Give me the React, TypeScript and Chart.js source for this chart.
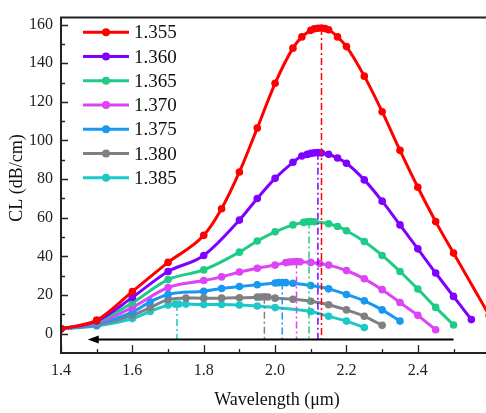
import React, { useEffect, useRef } from 'react';
import { Chart, registerables } from 'chart.js';

Chart.register(...registerables);

// ---- data ----
const seriesNames = ['1.355', '1.360', '1.365', '1.370', '1.375', '1.380', '1.385'];
const seriesColors = ['#FF0000', '#8000FF', '#1FCB86', '#DD44F5', '#1A98F0', '#808080', '#1CC8C8'];

const wl1355 = [1.4, 1.5, 1.6, 1.7, 1.8, 1.85, 1.9, 1.95, 2.0, 2.05, 2.075, 2.1, 2.11, 2.12, 2.13, 2.14, 2.15, 2.175, 2.2, 2.25, 2.3, 2.35, 2.4, 2.45, 2.5, 2.6];
const cl1355 = [2.5, 7, 21.8, 36.9, 50.9, 64.7, 83.7, 106.4, 129.6, 147.8, 153.6, 157, 157.8, 158.1, 158.2, 157.9, 157.3, 153.6, 148.6, 133.3, 114.9, 94.9, 75.8, 58, 41.7, 9.5];

const wl1360 = [1.4, 1.5, 1.6, 1.7, 1.8, 1.9, 1.95, 2.0, 2.05, 2.075, 2.09, 2.1, 2.11, 2.12, 2.13, 2.15, 2.175, 2.2, 2.25, 2.3, 2.35, 2.4, 2.45, 2.5, 2.55];
const cl1360 = [2.5, 6.5, 18.8, 32.2, 40.5, 58.8, 70, 80.4, 88.7, 92, 92.8, 93.3, 93.6, 93.7, 93.5, 92.9, 90.9, 88.2, 79.6, 68.6, 56.3, 43.9, 31.4, 19.3, 7.3];

const wl1365 = [1.4, 1.5, 1.6, 1.7, 1.8, 1.9, 1.95, 2.0, 2.05, 2.08, 2.09, 2.1, 2.11, 2.15, 2.175, 2.2, 2.25, 2.3, 2.35, 2.4, 2.45, 2.5];
const cl1365 = [2.5, 6, 16, 28, 33, 42.2, 48, 52.7, 56.3, 57.6, 57.9, 58, 57.9, 56.9, 55.5, 53.3, 47.7, 40.5, 32.2, 23.1, 13.6, 4.5];

const wl1370 = [1.4, 1.5, 1.6, 1.7, 1.8, 1.85, 1.9, 1.95, 2.0, 2.03, 2.04, 2.05, 2.06, 2.07, 2.1, 2.125, 2.15, 2.2, 2.25, 2.3, 2.35, 2.4, 2.45];
const cl1370 = [2.5, 5.5, 13.6, 23.9, 27.5, 29.4, 31.9, 33.9, 35.5, 36.8, 37.1, 37.2, 37.3, 37.2, 36.9, 36.3, 35.5, 32.7, 28.4, 22.8, 16.1, 9.5, 2];

const wl1375 = [1.4, 1.5, 1.6, 1.65, 1.7, 1.8, 1.85, 1.9, 1.95, 2.0, 2.01, 2.02, 2.03, 2.05, 2.1, 2.15, 2.2, 2.25, 2.3, 2.35];
const cl1375 = [2.5, 5, 11.1, 16.5, 20.3, 22, 23.4, 24.4, 25.3, 26.2, 26.4, 26.5, 26.4, 26.1, 24.9, 23.2, 20.3, 17, 12.3, 6.5];

const wl1380 = [1.4, 1.5, 1.6, 1.65, 1.7, 1.75, 1.8, 1.85, 1.9, 1.95, 1.96, 1.97, 1.98, 2.0, 2.05, 2.1, 2.15, 2.2, 2.25, 2.3];
const cl1380 = [2.5, 4.5, 9.5, 13.5, 17.6, 18.5, 18.4, 18.4, 18.6, 18.9, 19, 19.1, 19, 18.4, 17.8, 16.8, 15, 12.3, 9, 4.3];

const wl1385 = [1.4, 1.5, 1.6, 1.65, 1.7, 1.72, 1.73, 1.75, 1.8, 1.85, 1.9, 1.95, 2.0, 2.1, 2.15, 2.2, 2.25];
const cl1385 = [2.5, 4, 7.8, 11.5, 14.8, 15.3, 15.4, 15.3, 15.1, 15.1, 14.8, 14.3, 13.5, 11.5, 9, 6.5, 3.2];

const wavelengths = [wl1355, wl1360, wl1365, wl1370, wl1375, wl1380, wl1385];
const losses = [cl1355, cl1360, cl1365, cl1370, cl1375, cl1380, cl1385];

const peakWavelengths = [2.13, 2.12, 2.095, 2.06, 2.02, 1.97, 1.725];
const peakLosses = [158.2, 93.7, 58, 37.3, 26.5, 19.1, 15.4];

const xTickValues = [1.4, 1.6, 1.8, 2.0, 2.2, 2.4];
const xMinorValues = [1.5, 1.7, 1.9, 2.1, 2.3, 2.5];
const yTickValues = [0, 20, 40, 60, 80, 100, 120, 140, 160];
const yMinorValues = [10, 30, 50, 70, 90, 110, 130, 150];

const arrowStart = 2.5;
const arrowEnd = 1.475;
const arrowLevel = -3;

const FONT = '"Liberation Serif", "Times New Roman", serif';

const decorPlugin = {
  id: 'decor',
  afterDatasetsDraw(chart: any) {
    const { ctx, scales } = chart;
    const x = scales.x;
    const y = scales.y;
    ctx.save();
    ctx.lineWidth = 1.5;
    ctx.setLineDash([7, 3, 2, 3]);
    peakWavelengths.forEach((p, i) => {
      const px = x.getPixelForValue(p);
      ctx.strokeStyle = seriesColors[i];
      ctx.beginPath();
      ctx.moveTo(px, y.getPixelForValue(peakLosses[i]));
      ctx.lineTo(px, y.getPixelForValue(arrowLevel));
      ctx.stroke();
    });
    ctx.restore();

    // arrow
    ctx.save();
    const ay = y.getPixelForValue(arrowLevel);
    const ax0 = x.getPixelForValue(arrowStart);
    const ax1 = x.getPixelForValue(arrowEnd);
    ctx.strokeStyle = '#000';
    ctx.fillStyle = '#000';
    ctx.lineWidth = 2;
    ctx.beginPath();
    ctx.moveTo(ax0, ay);
    ctx.lineTo(ax1 + 8, ay);
    ctx.stroke();
    ctx.beginPath();
    ctx.moveTo(ax1, ay);
    ctx.lineTo(ax1 + 11, ay - 4);
    ctx.lineTo(ax1 + 11, ay + 4);
    ctx.closePath();
    ctx.fill();
    ctx.restore();
  },
  afterDraw(chart: any) {
    const { ctx, chartArea, scales } = chart;
    const x = scales.x;
    const y = scales.y;
    const { left, right, top, bottom } = chartArea;
    ctx.save();
    ctx.strokeStyle = '#222';
    ctx.lineWidth = 2;
    ctx.beginPath();
    ctx.moveTo(left, top);
    ctx.lineTo(right, top);
    ctx.moveTo(left, top - 1);
    ctx.lineTo(left, bottom + 1);
    ctx.moveTo(left - 1, bottom);
    ctx.lineTo(right, bottom);
    ctx.stroke();
    ctx.lineWidth = 1.3;
    ctx.beginPath();
    yTickValues.forEach((v) => {
      const py = Math.round(y.getPixelForValue(v)) + 0.5;
      ctx.moveTo(left, py);
      ctx.lineTo(left + 7, py);
    });
    yMinorValues.forEach((v) => {
      const py = Math.round(y.getPixelForValue(v)) + 0.5;
      ctx.moveTo(left, py);
      ctx.lineTo(left + 4, py);
    });
    xTickValues.forEach((v) => {
      const px = Math.round(x.getPixelForValue(v)) + 0.5;
      ctx.moveTo(px, bottom);
      ctx.lineTo(px, bottom - 8);
    });
    xMinorValues.forEach((v) => {
      const px = Math.round(x.getPixelForValue(v)) + 0.5;
      ctx.moveTo(px, bottom);
      ctx.lineTo(px, bottom - 4);
    });
    ctx.stroke();

    // legend
    const rowY0 = 32.3;
    const rowStep = 24.25;
    seriesNames.forEach((name, i) => {
      const ry = rowY0 + i * rowStep;
      ctx.strokeStyle = seriesColors[i];
      ctx.fillStyle = seriesColors[i];
      ctx.lineWidth = 3;
      ctx.beginPath();
      ctx.moveTo(83, ry);
      ctx.lineTo(129, ry);
      ctx.stroke();
      ctx.beginPath();
      ctx.arc(106, ry, 4, 0, Math.PI * 2);
      ctx.fill();
      ctx.fillStyle = '#111';
      ctx.font = '19px ' + FONT;
      ctx.textAlign = 'left';
      ctx.textBaseline = 'middle';
      ctx.fillText(name, 134, ry + 1);
    });

    // axis titles
    ctx.fillStyle = '#111';
    ctx.font = '18px ' + FONT;
    ctx.textAlign = 'center';
    ctx.textBaseline = 'middle';
    ctx.fillText('Wavelength (\u03bcm)', 277, 400);
    ctx.save();
    ctx.translate(17, 178);
    ctx.rotate(-Math.PI / 2);
    ctx.fillText('CL (dB/cm)', 0, 0);
    ctx.restore();
    ctx.restore();
  },
};

export default function App() {
  const canvasRef = useRef<HTMLCanvasElement | null>(null);

  useEffect(() => {
    if (!canvasRef.current) return;
    const datasets = seriesNames.map((name, i) => ({
      label: name,
      data: wavelengths[i].map((w, j) => ({ x: w, y: losses[i][j] })),
      borderColor: seriesColors[i],
      backgroundColor: seriesColors[i],
      borderWidth: 3,
      pointRadius: 3.8,
      pointBorderWidth: 0,
      pointHoverRadius: 3.8,
      cubicInterpolationMode: 'monotone' as const,
      fill: false,
    }));
    const chart = new Chart(canvasRef.current, {
      type: 'line',
      data: { datasets },
      plugins: [decorPlugin],
      options: {
        animation: false,
        responsive: false,
        maintainAspectRatio: false,
        events: [],
        layout: { padding: { top: 5, left: 0, right: 0, bottom: 0 } },
        plugins: {
          legend: { display: false },
          tooltip: { enabled: false },
        },
        scales: {
          x: {
            type: 'linear',
            min: 1.4,
            max: 2.6,
            grid: { display: false, drawTicks: false },
            border: { display: false },
            afterBuildTicks: (s: any) => {
              s.ticks = xTickValues.map((v) => ({ value: v }));
            },
            afterFit: (s: any) => {
              s.height = 60;
            },
            ticks: {
              padding: 8,
              color: '#222',
              font: { family: FONT, size: 16 },
              callback: (v: any) => Number(v).toFixed(1),
            },
          },
          y: {
            type: 'linear',
            min: -10,
            max: 163.6,
            grid: { display: false, drawTicks: false },
            border: { display: false },
            afterBuildTicks: (s: any) => {
              s.ticks = yTickValues.map((v) => ({ value: v }));
            },
            afterFit: (s: any) => {
              s.width = 61;
            },
            ticks: {
              padding: 8,
              color: '#222',
              font: { family: FONT, size: 16 },
              callback: (v: any) => String(v),
            },
          },
        },
      },
    });
    return () => chart.destroy();
  }, []);

  return (
    <div style={{ position: 'absolute', left: 0, top: 0, width: 486, height: 413, overflow: 'hidden', background: '#fff' }}>
      <canvas ref={canvasRef} width={493} height={413} style={{ display: 'block', width: 493, height: 413 }} />
    </div>
  );
}
